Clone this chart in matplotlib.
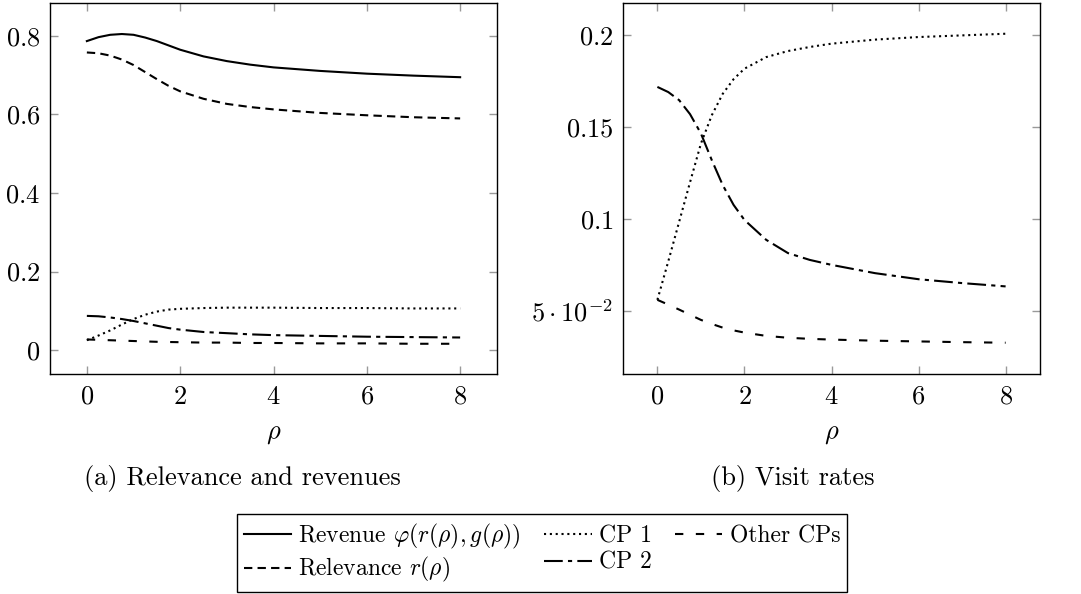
import matplotlib
matplotlib.use("Agg")
import matplotlib.pyplot as plt

plt.rcParams['mathtext.fontset'] = 'cm'
plt.rcParams['font.family'] = ['cmr10', 'DejaVu Serif']
plt.rcParams['axes.unicode_minus'] = False
plt.rcParams['axes.formatter.use_mathtext'] = True

# ---- data: left panel (relevance and revenues) ----
rho_left = [0, 0.25, 0.5, 0.75, 1, 1.25, 1.5, 1.75, 2, 2.5, 3, 3.5, 4, 5, 6, 7, 8]
revenue = [0.787, 0.797, 0.803, 0.805, 0.803, 0.796, 0.787, 0.776, 0.765, 0.748, 0.736, 0.727,
           0.720, 0.711, 0.704, 0.699, 0.695]
relevance = [0.758, 0.756, 0.750, 0.740, 0.726, 0.708, 0.690, 0.673, 0.659, 0.640, 0.627, 0.619,
             0.613, 0.604, 0.598, 0.593, 0.590]
cp1_left = [0.025, 0.037, 0.050, 0.065, 0.079, 0.090, 0.098, 0.103, 0.105, 0.107, 0.108, 0.108,
            0.108, 0.107, 0.107, 0.106, 0.106]
cp2_left = [0.087, 0.086, 0.083, 0.079, 0.074, 0.068, 0.062, 0.056, 0.052, 0.046, 0.043, 0.040,
            0.038, 0.036, 0.034, 0.033, 0.032]
other_left = [0.027, 0.026, 0.025, 0.024, 0.023, 0.022, 0.021, 0.0205, 0.020, 0.019, 0.019, 0.018,
              0.018, 0.017, 0.017, 0.016, 0.016]

# ---- data: right panel (visit rates) ----
rho_right = [0, 0.25, 0.5, 0.75, 1, 1.25, 1.5, 1.75, 2, 2.5, 3, 3.5, 4, 5, 6, 7, 8]
cp1_right = [0.0561, 0.077, 0.0985, 0.120, 0.141, 0.1564, 0.168, 0.176, 0.1817, 0.188, 0.1913,
             0.1935, 0.1953, 0.1975, 0.1989, 0.1998, 0.2007]
cp2_right = [0.1718, 0.169, 0.1646, 0.157, 0.1465, 0.132, 0.1185, 0.1077, 0.0995, 0.0887, 0.0815,
             0.0778, 0.0751, 0.0706, 0.0673, 0.0652, 0.0634]
other_right = [0.0561, 0.0535, 0.0508, 0.0480, 0.0452, 0.0430, 0.0410, 0.0395, 0.0383, 0.0365,
               0.0355, 0.0349, 0.0345, 0.0339, 0.0335, 0.0331, 0.0328]

labels = [r'Revenue $\varphi(r(\rho), g(\rho))$', r'Relevance $r(\rho)$', 'CP 1', 'CP 2', 'Other CPs']
left_yticks = [0, 0.2, 0.4, 0.6, 0.8]
left_yticklabels = ['$0$', '$0.2$', '$0.4$', '$0.6$', '$0.8$']
right_yticks = [0.05, 0.1, 0.15, 0.2]
right_yticklabels = [r'$5\cdot10^{-2}$', '$0.1$', '$0.15$', '$0.2$']
xticks = [0, 2, 4, 6, 8]
xticklabels = ['$0$', '$2$', '$4$', '$6$', '$8$']

FS = 19
LFS = 17
LW = 1.5
st_solid = dict(color='black', lw=LW, linestyle='-')
st_dashed = dict(color='black', lw=LW, dashes=(4, 2.5))
st_dotted = dict(color='black', lw=LW, dashes=(1, 1.8))
st_dashdot = dict(color='black', lw=LW, dashes=(9, 2.5, 2, 2.5))
st_loose = dict(color='black', lw=LW, dashes=(4, 6))

fig = plt.figure(figsize=(10.81, 5.94), dpi=100)
ax1 = fig.add_axes([50/1081, 1-374/594, 447/1081, 371/594])
ax2 = fig.add_axes([623/1081, 1-374/594, 417/1081, 371/594])

h1, = ax1.plot(rho_left, revenue, **st_solid)
h2, = ax1.plot(rho_left, relevance, **st_dashed)
h3, = ax1.plot(rho_left, cp1_left, **st_dotted)
h4, = ax1.plot(rho_left, cp2_left, **st_dashdot)
h5, = ax1.plot(rho_left, other_left, **st_loose)

ax2.plot(rho_right, cp1_right, **st_dotted)
ax2.plot(rho_right, cp2_right, **st_dashdot)
ax2.plot(rho_right, other_right, **st_loose)

ax1.set_xlim(-0.79, 8.79)
ax1.set_ylim(-0.061, 0.884)
ax2.set_xlim(-0.79, 8.79)
ax2.set_ylim(0.0158, 0.2174)

for ax in (ax1, ax2):
    ax.set_xticks(xticks)
    ax.set_xticklabels(xticklabels, fontsize=FS)
    ax.tick_params(direction='in', top=True, right=True, color='0.6', length=6, width=1,
                   labelsize=FS)
    ax.tick_params(axis='x', pad=8)
    ax.tick_params(axis='y', pad=7)
    for s in ax.spines.values():
        s.set_linewidth(1.0)
    ax.set_xlabel(r'$\rho$', fontsize=FS, labelpad=10)

ax1.set_yticks(left_yticks)
ax1.set_yticklabels(left_yticklabels, fontsize=FS)
ax2.set_yticks(right_yticks)
ax2.set_yticklabels(right_yticklabels, fontsize=FS)

fig.text(242/1081, 1-478/594, '(a) Relevance and revenues', ha='center', va='center', fontsize=FS)
fig.text(793/1081, 1-478/594, '(b) Visit rates', ha='center', va='center', fontsize=FS)

leg = fig.legend([h1, h2, h3, h4, h5], labels, ncol=3, loc='center',
                 bbox_to_anchor=(542/1081, 1-553/594), fontsize=LFS,
                 frameon=True, fancybox=False, edgecolor='black', framealpha=1,
                 handlelength=2.0, handletextpad=0.3, columnspacing=1.0,
                 labelspacing=0.2, borderpad=0.3)
leg.get_frame().set_linewidth(1.0)

fig.savefig('out.png', dpi=100)
